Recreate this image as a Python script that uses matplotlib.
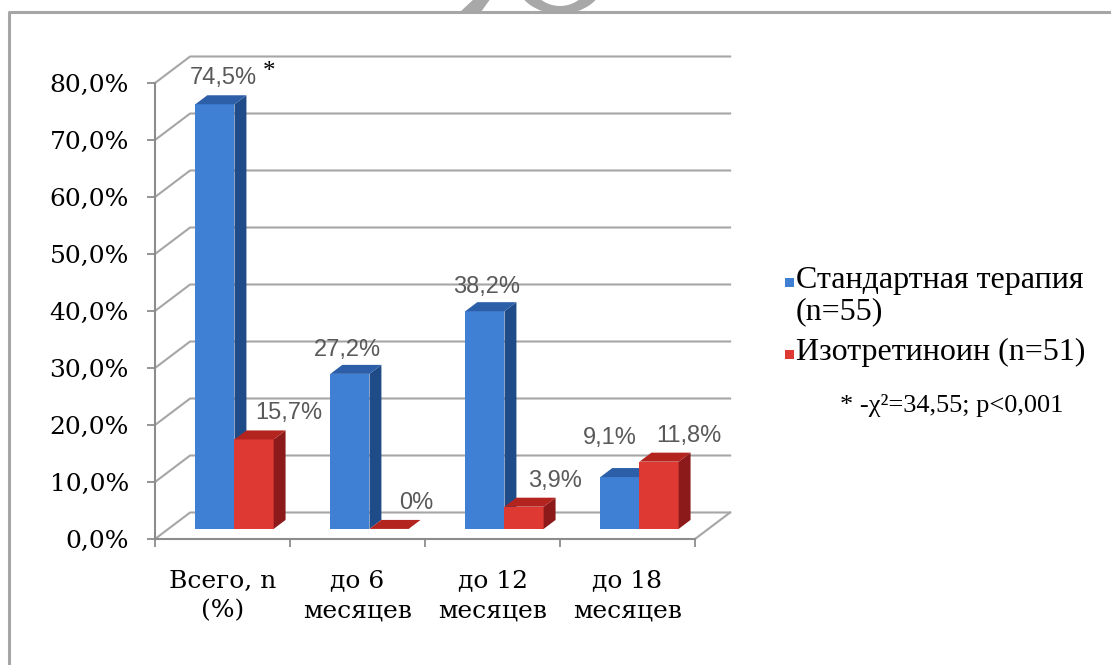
import matplotlib.pyplot as plt
from matplotlib.patches import Polygon, Rectangle, Ellipse

# data
categories = ['Всего, n\n(%)', 'до 6\nмесяцев', 'до 12\nмесяцев', 'до 18\nмесяцев']
standard = [74.5, 27.2, 38.2, 9.1]
isotretinoin = [15.7, 0.0, 3.9, 11.8]
standard_text = ['74,5%', '27,2%', '38,2%', '9,1%']
isotretinoin_text = ['15,7%', '0%', '3,9%', '11,8%']
y_ticks = [0, 10, 20, 30, 40, 50, 60, 70, 80]
series_names = [['Стандартная терапия', '(n=55)'], ['Изотретиноин (n=51)']]
note = '* -χ²=34,55; p<0,001'

W, H = 1111, 665
fig = plt.figure(figsize=(W / 100, H / 100), dpi=100)

# background layer in pixel coordinates (frame, legend, note)
bg = fig.add_axes([0, 0, 1, 1])
bg.set_xlim(0, W)
bg.set_ylim(H, 0)
bg.axis('off')

# faint watermark cut by the frame
clip = Rectangle((0, 0), W, 11, transform=bg.transData)
wm = '#A8A8A8'
p = Polygon([(475, -2), (491, -2), (481, 12), (460, 12)], fc=wm, ec='none')
bg.add_patch(p)
p.set_clip_path(clip)
e1 = Ellipse((560, -20), 88, 68, fc=wm, ec='none')
e2 = Ellipse((560, -20), 58, 52, fc='white', ec='none')
for e in (e1, e2):
    bg.add_patch(e)
    e.set_clip_path(clip)

bg.plot([9, 9, W], [H, 12, 12], color='#A6A6A6', lw=2.2, solid_capstyle='butt')

# main chart, front plane: x in categories, y in percent
ax = fig.add_axes([155 / W, 126 / H, 540 / W, 456 / H])
ax.set_xlim(0, 4)
ax.set_ylim(0, 80)
ax.patch.set_alpha(0)

DX, DY = 0.26, 4.65     # depth of the 3D box in data units
F0, F1 = 0.38, 0.72     # front/back of the columns inside the box
grid_c = '#A6A6A6'

for v in y_ticks:
    ax.plot([0, DX, 4 + DX], [v, v + DY, v + DY], color=grid_c, lw=1.5,
            clip_on=False, zorder=1)
ax.plot([4, 4 + DX], [0, DY], color=grid_c, lw=1.5, clip_on=False, zorder=1)

for s in ['top', 'right']:
    ax.spines[s].set_visible(False)
for s in ['left', 'bottom']:
    ax.spines[s].set_color('#8C8C8C')
    ax.spines[s].set_linewidth(1.5)

ax.set_yticks(y_ticks, [f'{v:.1f}%'.replace('.', ',') for v in y_ticks])
ax.tick_params(axis='y', direction='out', length=5.8, width=1.3, color='#8C8C8C',
               pad=13, labelsize=18)
ax.set_xticks(range(5), [''] * 5)
ax.set_xticks([i + 0.5 for i in range(4)], categories, minor=True)
ax.tick_params(axis='x', which='major', direction='out', length=5.8, width=1.3,
               color='#8C8C8C')
ax.tick_params(axis='x', which='minor', length=0, pad=22, labelsize=18)
for lab in ax.get_yticklabels() + ax.get_xticklabels(minor=True):
    lab.set_fontfamily('DejaVu Serif')
    lab.set_linespacing(1.38)


def column(x0, w, v, front, side, top):
    a, b = x0 + F0 * DX, x0 + w + F0 * DX
    y0 = F0 * DY
    ex, ey = (F1 - F0) * DX, (F1 - F0) * DY
    ax.add_patch(Polygon([(a, y0), (b, y0), (b, y0 + v), (a, y0 + v)],
                         fc=front, ec='none', zorder=3, clip_on=False))
    ax.add_patch(Polygon([(b, y0), (b + ex, y0 + ey), (b + ex, y0 + v + ey), (b, y0 + v)],
                         fc=side, ec='none', zorder=3, clip_on=False))
    ax.add_patch(Polygon([(a, y0 + v), (b, y0 + v), (b + ex, y0 + v + ey), (a + ex, y0 + v + ey)],
                         fc=top, ec='none', zorder=3, clip_on=False))
    return ((a + b) / 2 + ex / 2, y0 + v + ey)


blue = ('#3F7FD4', '#1F4C88', '#2C5FA8')
red = ('#DF3934', '#8C1A1A', '#B3241F')
bw = 0.29
# label nudges in pixels (dx, dy above the column top)
blue_off = [(2, 17), (-8, 15), (-4, 15), (-16, 30)]
red_off = [(29, 17), (21, 17), (25, 17), (24, 17)]
lab_kw = dict(textcoords='offset pixels', ha='center', va='center', color='#595959',
              fontsize=17, fontfamily='Liberation Sans', zorder=5, annotation_clip=False)

for i in range(len(categories)):
    tb = column(i + 0.2, bw, standard[i], *blue)
    tr = column(i + 0.2 + bw, bw, isotretinoin[i], *red)
    ax.annotate(standard_text[i], tb, xytext=blue_off[i], **lab_kw)
    ax.annotate(isotretinoin_text[i], tr, xytext=red_off[i], **lab_kw)
    if i == 0:
        ax.annotate('*', tb, xytext=(blue_off[i][0] + 46, blue_off[i][1] + 6),
                    textcoords='offset pixels', ha='center', va='center', fontsize=18,
                    fontfamily='Liberation Serif', color='black', annotation_clip=False)

# legend and note
ser_font = dict(fontfamily='Liberation Serif', fontsize=23, color='black', va='baseline')
bg.add_patch(Rectangle((785, 278), 9, 9, fc=blue[0], ec='none'))
bg.text(796, 288, series_names[0][0], **ser_font)
bg.text(796, 319, series_names[0][1], **ser_font)
bg.add_patch(Rectangle((785, 350), 9, 9, fc=red[0], ec='none'))
bg.text(796, 360, series_names[1][0], **ser_font)
bg.text(840, 412, note, fontfamily='Liberation Serif', fontsize=19, va='baseline')

fig.savefig('out.png', dpi=100)
